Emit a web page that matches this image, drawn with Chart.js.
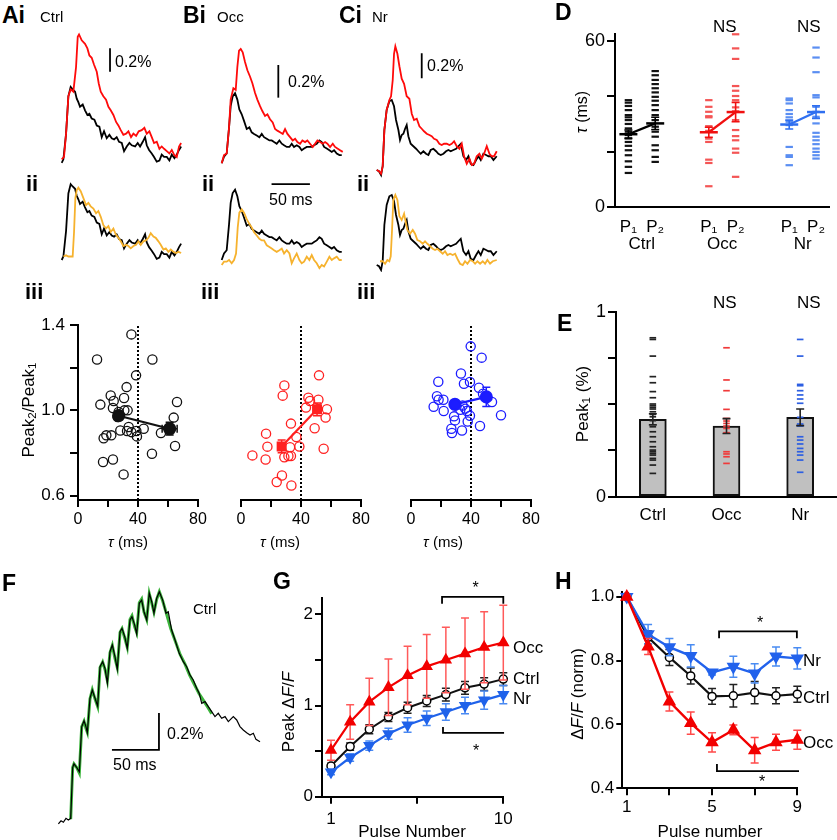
<!DOCTYPE html>
<html>
<head>
<meta charset="utf-8">
<title>Paired-pulse and train responses</title>
<script src="https://cdn.jsdelivr.net/npm/chart.js@4.4.1/dist/chart.umd.min.js"></script>
<style>
  body { margin: 0; background: #fff; }
  #fig { position: relative; width: 837px; height: 840px; overflow: hidden;
         font-family: "Liberation Sans", Arial, sans-serif; }
  #fig canvas { position: absolute; }
  .t { position: absolute; line-height: 1; white-space: nowrap; color: #000; z-index: 2; }
  .t sub { font-size: 68%; vertical-align: -0.25em; line-height: 0; }
</style>
</head>
<body>
<div id="fig"></div>
<script>
// ---------- Ai-Ci traces: [time (ms), dF/F (%)] ----------
const aiBlack = [[0,-0.03],[2.2,0],[5.7,0.22],[8.7,0.54],[11.7,0.62],[14.3,0.60],[17.4,0.58],[19.6,0.52],[21.7,0.49],[23.9,0.45],[27.4,0.47],[30.4,0.42],[33.5,0.38],[36.1,0.39],[39.1,0.35],[42.6,0.34],[45.7,0.29],[49.1,0.28],[52.2,0.19],[55.2,0.24],[58.7,0.18],[62.2,0.21],[65.2,0.18],[68.3,0.17],[71.7,0.19],[74.8,0.15],[78.3,0.14],[81.3,0.07],[84.8,0.11],[88.3,0.14],[91.3,0.12],[95.7,0.11],[99.1,0.14],[102.2,0.11],[105.7,0.15],[108.7,0.19],[110.9,0.12],[113.9,0.08],[117.4,0.05],[120.4,0.02],[123.9,-0.02],[127.4,-0.01],[130.4,0.04],[133.5,0.02],[137,0.02],[140.4,-0.01],[143.5,0.04],[147,0.01],[150,0.04],[153,0.08],[155.7,0.11]];
const aiRed = [[0,0],[3,0.02],[5.7,0.22],[8.7,0.54],[11.7,0.60],[15.2,0.58],[18.7,0.79],[20.9,1.05],[22.6,1.07],[26.1,1.02],[30.4,0.99],[33.5,0.95],[36.1,0.89],[39.1,0.87],[42.2,0.81],[45.7,0.75],[48.3,0.65],[50.9,0.58],[54.3,0.54],[57.8,0.51],[60.9,0.45],[63.9,0.42],[67.4,0.38],[70.9,0.32],[73.9,0.29],[77,0.25],[80.4,0.21],[83.9,0.22],[87,0.24],[90.4,0.19],[93.5,0.22],[97,0.20],[100.4,0.24],[104.3,0.25],[107.8,0.27],[110.9,0.22],[114.3,0.24],[117.4,0.19],[120.4,0.14],[123.9,0.15],[127.4,0.09],[130.4,0.11],[133.5,0.09],[137,0.07],[140.4,0.05],[143.5,0.08],[146.5,0.04],[150,0.02],[153,0.11],[155.7,0.14]];
const aiYellow = [[2.2,0],[5.7,0.01],[8.7,0],[11.7,0],[14.3,0],[16.1,0.21],[17.8,0.50],[19.6,0.57],[21.7,0.59],[24.8,0.56],[28.3,0.50],[31.7,0.44],[34.8,0.46],[37.8,0.43],[41.3,0.41],[44.8,0.37],[47.8,0.39],[50.9,0.34],[54.3,0.27],[57.8,0.24],[60.9,0.26],[63.9,0.21],[67.4,0.24],[70.4,0.19],[73.9,0.16],[77,0.13],[80.4,0.09],[83.9,0.10],[87,0.09],[90,0.07],[93.5,0.09],[97,0.10],[100,0.13],[103,0.10],[106.5,0.13],[110,0.14],[113,0.16],[116.1,0.20],[119.6,0.17],[122.6,0.16],[126.1,0.13],[129.1,0.10],[132.6,0.06],[135.7,0.07],[139.1,0.04],[142.2,0.06],[145.7,0.04],[149.1,0.03],[152.2,0.04],[155.7,0.03]];
const biBlack = [[0,0],[3,0.04],[6.5,0.06],[9.6,0.22],[11.7,0.35],[14.3,0.41],[17.4,0.43],[20.4,0.39],[23,0.33],[26.1,0.30],[29.1,0.26],[32.6,0.21],[36.1,0.22],[39.1,0.19],[42.2,0.18],[45.7,0.17],[49.1,0.16],[52.2,0.18],[55.2,0.16],[58.7,0.15],[62.2,0.14],[65.2,0.14],[68.3,0.13],[71.7,0.12],[75.2,0.14],[78.3,0.12],[81.3,0.11],[84.8,0.10],[88.3,0.10],[91.3,0.12],[94.3,0.10],[97.8,0.11],[101.3,0.10],[104.3,0.08],[107.4,0.09],[110.9,0.10],[114.3,0.10],[117.4,0.10],[120.4,0.11],[123.9,0.12],[127.4,0.14],[130.4,0.13],[133.5,0.10],[137,0.09],[140.4,0.08],[143.5,0.07],[146.5,0.08],[150,0.06],[153.5,0.05],[156.5,0.05]];
const biRed = [[0,0],[3,0.05],[6.5,0.06],[9.6,0.22],[11.7,0.39],[15.2,0.46],[18.3,0.45],[20.4,0.59],[22.6,0.69],[24.8,0.70],[27.4,0.68],[30.4,0.62],[33.5,0.57],[37,0.53],[40,0.49],[43.5,0.43],[46.5,0.39],[50,0.35],[53,0.32],[56.5,0.29],[59.6,0.30],[63,0.27],[66.5,0.25],[69.6,0.21],[72.6,0.20],[76.1,0.19],[79.6,0.18],[82.6,0.21],[85.7,0.18],[89.1,0.16],[92.6,0.14],[95.7,0.15],[98.7,0.13],[102.2,0.12],[105.2,0.14],[108.7,0.13],[111.7,0.14],[115.2,0.12],[118.7,0.10],[121.7,0.12],[124.8,0.14],[128.3,0.13],[131.7,0.12],[134.8,0.13],[137.8,0.12],[141.3,0.10],[144.8,0.12],[147.8,0.10],[150.9,0.09],[154.3,0.08],[157.8,0.07]];
const biYellow = [[0,-0.03],[3,-0.01],[6.5,-0.01],[9.6,0],[13,-0.02],[16.1,0],[18.7,0.04],[20.9,0.20],[23,0.29],[26.1,0.31],[29.1,0.29],[32.6,0.25],[36.1,0.22],[39.1,0.20],[42.2,0.17],[45.7,0.15],[49.1,0.13],[52.2,0.12],[55.2,0.12],[58.7,0.09],[62.2,0.08],[65.2,0.07],[68.3,0.06],[71.7,0.05],[75.2,0.06],[78.3,0.07],[81.3,0.04],[84.8,0.06],[88.3,0.04],[91.3,-0.02],[94.3,0.01],[97.8,0.04],[101.3,0],[104.3,-0.02],[107.4,-0.01],[110.9,0.02],[114.3,0],[117.4,0.03],[120.4,0],[123.9,-0.02],[127.4,-0.05],[130.4,-0.03],[133.5,-0.04],[137,-0.01],[140.4,0.02],[143.5,0],[146.5,0.01],[150,0.02],[153.5,0],[156.5,0]];
const ciBlack = [[0,0],[3,-0.01],[5.7,-0.04],[7.8,0.03],[10,0.32],[13,0.48],[16.5,0.55],[19.6,0.56],[22.6,0.51],[25.2,0.40],[28.3,0.32],[30.4,0.24],[32.6,0.28],[34.8,0.29],[37,0.33],[39.1,0.36],[41.3,0.27],[44.3,0.21],[47.8,0.19],[51.3,0.17],[54.3,0.15],[57.4,0.13],[60.9,0.15],[64.3,0.13],[67.4,0.12],[70.4,0.16],[73.9,0.17],[77.4,0.15],[80.4,0.13],[83.5,0.12],[87,0.13],[90.4,0.15],[93.5,0.16],[96.5,0.15],[100,0.16],[103.5,0.17],[106.5,0.19],[109.6,0.21],[113,0.11],[116.5,0.08],[119.6,0.11],[122.6,0.05],[126.1,0.04],[129.6,0.08],[132.6,0.11],[135.7,0.08],[139.1,0.13],[142.6,0.12],[145.7,0.11],[148.7,0.11],[152.2,0.08],[156.5,0.11]];
const ciRed = [[0,0],[3,-0.01],[5.7,-0.03],[7.8,0.03],[10,0.32],[13,0.48],[16.5,0.56],[18.7,0.59],[20.9,0.72],[22.6,0.93],[24.3,0.99],[27,0.93],[29.6,0.83],[32.6,0.73],[35.7,0.69],[39.1,0.59],[42.6,0.57],[45.7,0.45],[48.7,0.40],[52.2,0.41],[55.7,0.35],[58.7,0.33],[61.7,0.31],[65.2,0.29],[68.7,0.28],[71.7,0.27],[74.8,0.25],[78.3,0.24],[81.7,0.21],[84.8,0.20],[87.8,0.21],[91.3,0.21],[94.8,0.20],[97.8,0.21],[100.9,0.23],[104.3,0.19],[107.8,0.17],[110.9,0.21],[113.9,0.11],[117.4,0.05],[120.9,0.09],[123.9,0.04],[127,0.05],[130.4,0.11],[133.9,0.13],[137,0.09],[140,0.13],[143.5,0.19],[147,0.13],[150,0.11],[153,0.11],[156.5,0.15]];
const ciYellow = [[4.3,0.03],[7.8,0.03],[10.9,0.01],[13.9,0.04],[16.5,0.03],[18.3,0.07],[20,0.28],[21.7,0.52],[24.3,0.56],[27,0.52],[29.6,0.39],[32.6,0.36],[35.7,0.41],[38.3,0.33],[40,0.28],[43.5,0.25],[47,0.28],[50,0.25],[53,0.20],[56.5,0.19],[60,0.17],[63,0.19],[66.1,0.17],[69.6,0.15],[73,0.13],[76.1,0.12],[79.1,0.13],[82.6,0.11],[86.1,0.09],[89.1,0.11],[92.2,0.08],[95.7,0.09],[99.1,0.08],[102.2,0.09],[105.2,0.05],[108.7,0.01],[112.2,0],[115.2,0.03],[118.3,0.01],[121.7,0.04],[125.2,0.03],[128.3,0.01],[131.3,0.03],[134.8,0.01],[138.3,0.03],[141.3,0.01],[144.3,0.04],[147.8,0.01],[151.3,0.03],[156.5,0.04]];

// ---------- Aiii-Ciii: tau (ms) vs Peak2/Peak1 ----------
const ctrlTau = [12.7,35.6,49.6,38.7,32.4,21.8,30.7,23.8,66,14.9,23.3,30.9,33.1,27.1,26.4,63.8,33.8,43.8,28.2,32.7,35.6,38.9,39.3,55.3,22.2,18.9,17.1,64.7,49.3,16.7,23.3,30.4];
const ctrlRatio = [1.238,1.356,1.238,1.164,1.109,1.07,1.058,1.044,1.039,1.027,1.011,1.0,1.0,0.992,0.969,0.966,0.922,0.914,0.906,0.903,0.898,0.903,0.878,0.894,0.883,0.883,0.869,0.833,0.797,0.758,0.77,0.70];
const occTau = [52,28.9,27.8,44.9,46,51.6,43.3,57.3,56.4,33.3,49.1,16.7,36.9,17.6,32.7,38.9,55.1,7.6,33.3,31.6,28.9,16.4,27.3,23.8,33.6];
const occRatio = [1.164,1.117,1.069,1.059,1.044,1.05,1.013,1.005,0.966,0.938,0.916,0.891,0.875,0.83,0.827,0.831,0.82,0.789,0.786,0.786,0.78,0.77,0.695,0.664,0.648];
const nrTau = [39.8,47.1,33.3,18.2,39.3,35.3,45.3,48,17.3,18.4,21.6,54,15.1,34.4,36.2,32.9,21.8,37.3,39.3,60,28.7,29.3,37.8,46,26.9,27.3,34];
const nrRatio = [1.30,1.247,1.173,1.134,1.133,1.125,1.106,1.078,1.066,1.05,1.05,1.039,1.017,1.023,1.008,1.003,0.997,0.997,0.975,0.977,0.972,0.953,0.948,0.927,0.914,0.894,0.906];
// group means (tau < 40 and tau > 40) with SEM
const ctrlMeanTau = [27.1, 61.1], ctrlMeanRatio = [0.975, 0.914];
const ctrlSemTau = [2, 5], ctrlSemRatio = [0.02, 0.03];
const occMeanTau = [27.1, 50.7], occMeanRatio = [0.831, 1.005];
const occSemTau = [2, 1.5], occSemRatio = [0.03, 0.03];
const nrMeanTau = [29.3, 50.2], nrMeanRatio = [1.028, 1.063];
const nrSemTau = [2, 1.5], nrSemRatio = [0.02, 0.045];

// ---------- D: tau (ms) of P1 and P2 ----------
const dCtrlP1 = [38.6,37.7,36.5,35.0,33.2,32.4,31.4,30.0,28.4,27.2,26.0,24.8,23.5,22.1,20.5,18.7,16.5,14.5,12.3];
const dCtrlP2 = [49.1,47.6,45.9,44.4,42.9,41.4,39.8,38.4,36.8,35.0,33.2,31.4,29.0,27.2,25.4,22.3,20.5,18.1,16.3];
const dOccP1 = [38.6,36.2,34.4,32.8,32.4,29.2,27.5,24.7,23.5,17.1,15.9,7.5];
const dOccP2 = [62.4,57.3,53.5,43.7,42.0,40.1,38.6,36.0,34.6,31.4,27.8,25.6,24.1,21.1,19.6,10.9];
const dNrP1 = [39.2,38.6,37.4,35.0,33.6,32.4,30.8,29.6,21.7,18.7,18.1,15.1];
const dNrP2 = [57.6,54.0,48.7,40.4,39.6,36.2,34.4,32.6,30.2,26.8,25.4,24.1,22.7,21.1,19.9,18.7,17.5];
const dCtrlMean = [26.3, 30.2], dCtrlSem = [1.5, 2.2];
const dOccMean = [27.0, 34.3], dOccSem = [1.8, 3.5];
const dNrMean = [29.8, 34.3], dNrSem = [1.6, 2.3];

// ---------- E: Peak1 (%) ----------
const groups = ['Ctrl', 'Occ', 'Nr'];
const eMean = [0.418, 0.382, 0.429];
const eSem = [0.03, 0.04, 0.045];
const eCtrl = [0.859,0.850,0.760,0.649,0.616,0.568,0.535,0.501,0.492,0.483,0.474,0.459,0.445,0.432,0.411,0.378,0.351,0.324,0.297,0.270,0.252,0.243,0.234,0.225,0.207,0.198,0.171,0.126];
const eOcc = [0.805,0.631,0.573,0.472,0.423,0.409,0.396,0.382,0.369,0.346,0.243,0.231,0.216,0.180];
const eNr = [0.850,0.760,0.607,0.600,0.573,0.550,0.528,0.505,0.429,0.393,0.382,0.324,0.306,0.285,0.261,0.243,0.225,0.198,0.132];

// ---------- F: 10-pulse train, Ctrl ----------
const fTrace = [[0.4,-0.005],[3.2,0.012],[5.7,0.004],[8.5,0.025],[11,0.016],[13.5,0.025],[15.6,0.30],[17,0.32],[19.9,0.30],[22.7,0.277],[25.2,0.52],[27.7,0.553],[29.8,0.52],[31.2,0.488],[34,0.674],[36.5,0.719],[39.4,0.674],[42.2,0.632],[44.7,0.845],[47.5,0.872],[50,0.836],[52.5,0.755],[55.3,0.926],[57.8,0.962],[60.6,0.899],[63.1,0.831],[66,1.034],[68.1,1.052],[71,1.007],[73.7,0.944],[76.6,1.097],[78.7,1.115],[81.6,1.07],[83.7,1.022],[86.5,1.188],[89,1.205],[91.5,1.142],[94.4,1.097],[97.1,1.242],[99.7,1.196],[102.1,1.134],[105,1.215],[107.8,1.25],[111.4,1.205],[114.9,1.134],[117.3,1.142],[120.9,1.043],[124.5,0.989],[129,0.917],[133.3,0.872],[136.9,0.845],[140.4,0.80],[143.9,0.773],[147.5,0.728],[150.3,0.70],[152.9,0.647],[156.4,0.656],[159.9,0.629],[163.5,0.602],[167,0.575],[170.5,0.593],[174.1,0.566],[177.7,0.575],[181.2,0.548],[186.5,0.575],[190.1,0.557],[193.6,0.521],[197.1,0.503],[200.7,0.488],[204.3,0.476],[207.8,0.485],[210.6,0.452],[214.9,0.439]];
const fFit = [[13.5,0.02],[15.6,0.30],[17,0.32],[19.9,0.30],[22.7,0.27],[25.2,0.52],[27.7,0.55],[29.8,0.51],[31.2,0.49],[34,0.67],[36.5,0.72],[39.4,0.67],[42.2,0.63],[44.7,0.84],[47.5,0.87],[50,0.83],[52.5,0.77],[55.3,0.92],[57.8,0.96],[60.6,0.89],[63.1,0.84],[66,1.03],[68.1,1.05],[71,1.0],[73.7,0.95],[76.6,1.10],[78.7,1.12],[81.6,1.06],[83.7,1.03],[86.5,1.19],[89,1.21],[91.5,1.14],[94.4,1.10],[97.1,1.24],[99.7,1.19],[102.1,1.14],[105,1.21],[107.8,1.25],[111.4,1.20],[114.9,1.14],[120,1.05],[125,0.98],[130,0.91],[135,0.86],[140,0.80],[145,0.75],[150,0.70],[155,0.66],[160,0.62],[163.5,0.59]];

// ---------- G: peak dF/F per pulse ----------
const pulsesG = [1,2,3,4,5,6,7,8,9,10];
const gCtrl = [0.336,0.55,0.74,0.875,0.976,1.05,1.12,1.195,1.236,1.29];
const gCtrlSem = [0.03,0.04,0.05,0.05,0.06,0.06,0.07,0.07,0.07,0.07];
const gOcc = [0.51,0.82,1.04,1.20,1.33,1.43,1.50,1.57,1.64,1.69];
const gOccSem = [0.11,0.19,0.26,0.31,0.32,0.35,0.36,0.39,0.39,0.41];
const gNr = [0.27,0.43,0.56,0.69,0.786,0.86,0.93,1.0,1.06,1.12];
const gNrSem = [0.03,0.04,0.05,0.06,0.08,0.08,0.09,0.09,0.1,0.1];

// ---------- H: normalised dF/F per pulse ----------
const pulsesH = [1,2,3,4,5,6,7,8,9];
const hCtrl = [1.0,0.873,0.81,0.752,0.688,0.69,0.70,0.69,0.695];
const hCtrlSem = [0.004,0.02,0.025,0.025,0.025,0.035,0.035,0.025,0.025];
const hNr = [1.0,0.883,0.842,0.815,0.763,0.781,0.76,0.813,0.807];
const hNrSem = [0.004,0.03,0.027,0.035,0.008,0.033,0.03,0.03,0.033];
const hOcc = [1.0,0.844,0.672,0.604,0.544,0.583,0.519,0.544,0.552];
const hOccSem = [0.004,0.025,0.03,0.035,0.03,0.015,0.04,0.025,0.03];

// ---------- setup ----------
const fig = document.getElementById('fig');
const FONT = '"Liberation Sans", Arial, sans-serif';
Chart.defaults.font.family = FONT;
Chart.defaults.font.size = 16;
Chart.defaults.color = '#000';
Chart.defaults.animation = false;
Chart.defaults.events = [];
Chart.defaults.plugins.legend.display = false;
Chart.defaults.plugins.tooltip.enabled = false;
Chart.defaults.elements.point.radius = 0;
Chart.defaults.elements.point.hoverRadius = 0;
Chart.defaults.elements.line.tension = 0;

// error bars drawn under each dataset's own markers
Chart.register({
  id: 'errorBars',
  beforeDatasetDraw(chart, args) {
    const ds = chart.data.datasets[args.index];
    if (!ds.errY && !ds.errX) return;
    const meta = args.meta, ctx = chart.ctx, cap = ds.capW || 4;
    const xs = chart.scales[meta.xAxisID], ys = chart.scales[meta.yAxisID];
    ctx.save();
    ctx.strokeStyle = ds.errColor || ds.borderColor;
    ctx.lineWidth = ds.errWidth || 1.5;
    ctx.beginPath();
    meta.data.forEach((el, i) => {
      const p = meta.controller.getParsed(i);
      if (ds.errY && ds.errY[i]) {
        const a = ys.getPixelForValue(p.y - ds.errY[i]), b = ys.getPixelForValue(p.y + ds.errY[i]);
        ctx.moveTo(el.x, a); ctx.lineTo(el.x, b);
        ctx.moveTo(el.x - cap, a); ctx.lineTo(el.x + cap, a);
        ctx.moveTo(el.x - cap, b); ctx.lineTo(el.x + cap, b);
      }
      if (ds.errX && ds.errX[i]) {
        const a = xs.getPixelForValue(p.x - ds.errX[i]), b = xs.getPixelForValue(p.x + ds.errX[i]);
        ctx.moveTo(a, el.y); ctx.lineTo(b, el.y);
        ctx.moveTo(a, el.y - cap); ctx.lineTo(a, el.y + cap);
        ctx.moveTo(b, el.y - cap); ctx.lineTo(b, el.y + cap);
      }
    });
    ctx.stroke();
    ctx.restore();
  }
});

const pts = (xs, ys) => xs.map((x, i) => ({ x, y: ys[i] }));
const pairs = arr => arr.map(([x, y]) => ({ x, y }));
// later entries are drawn on top
const layer = sets => sets.map((d, i) => Object.assign({ clip: false, order: sets.length - i }, d));

// box = canvas [left, top, w, h]; area = plot area [x1, y1, x2, y2] in page px
function chartAt(box, area, config) {
  const cv = document.createElement('canvas');
  cv.width = box[2]; cv.height = box[3];
  cv.style.left = box[0] + 'px'; cv.style.top = box[1] + 'px';
  fig.appendChild(cv);
  const o = config.options;
  o.responsive = false;
  o.layout = { autoPadding: false,
    padding: { left: 0, bottom: 0, top: area[1] - box[1], right: box[0] + box[2] - area[2] } };
  const yw = area[0] - box[0], xh = box[1] + box[3] - area[3];
  if (o.scales.y.display === false) o.layout.padding.left = yw; else o.scales.y.afterFit = s => { s.width = yw; };
  if (o.scales.x.display === false) o.layout.padding.bottom = xh; else o.scales.x.afterFit = s => { s.height = xh; };
  return new Chart(cv, config);
}

function axis(min, max, ticks, fmt, o = {}) {
  return {
    type: 'linear', min, max,
    afterBuildTicks: s => { s.ticks = ticks.map(v => ({ value: v })); },
    ticks: { callback: fmt, autoSkip: false, maxRotation: 0, padding: o.pad ?? 3,
             font: { size: o.size || 16, lineHeight: 1 }, color: '#000' },
    grid: { display: o.ticks !== false, drawTicks: o.ticks !== false, drawOnChartArea: false,
            color: '#000', lineWidth: 2, tickLength: o.tick || 7 },
    border: { color: '#000', width: 2 }
  };
}

// trace panel with hidden axes; org maps data to page px
function traceChart(box, org, sets) {
  const [L, T, W, H] = box;
  const x = { type: 'linear', display: false, min: (L - org.x0) / org.pxMs, max: (L + W - org.x0) / org.pxMs };
  const y = { type: 'linear', display: false, min: (org.y0 - T - H) / org.pxPct, max: (org.y0 - T) / org.pxPct };
  return chartAt(box, [L, T, L + W, T + H], { type: 'line', data: { datasets: layer(sets) }, options: { scales: { x, y } } });
}
const tr = (arr, color, w) => ({ data: pairs(arr), borderColor: color, borderWidth: w || 1.8 });
const bar = (p, color) => ({ data: pairs(p), borderColor: color || '#000', borderWidth: 1.8 });

const BLK = '#000', RED = '#ff0a0a', YEL = '#f6b22e';

// ---------- Ai / Bi / Ci traces ----------
const aOrg = { x0: 61.7, pxMs: 0.767, pxPct: 116.7 };
traceChart([50, 25, 140, 155], { ...aOrg, y0: 159.3 }, [tr(aiBlack, BLK), tr(aiRed, RED), bar([[63, 0.751], [63, 0.951]])]);
traceChart([50, 172, 140, 100], { ...aOrg, y0: 256.5 }, [tr(aiBlack, BLK), tr(aiYellow, YEL)]);
const bOrg = { x0: 221.7, pxMs: 0.767, pxPct: 163.3 };
traceChart([212, 25, 150, 155], { ...bOrg, y0: 163.3 }, [tr(biBlack, BLK), tr(biRed, RED), bar([[73.8, 0.402], [73.8, 0.602]])]);
traceChart([212, 172, 150, 100], { ...bOrg, y0: 260 }, [tr(biBlack, BLK), tr(biYellow, YEL), bar([[65, 0.465], [115, 0.465]])]);
const cOrg = { x0: 376.7, pxMs: 0.767, pxPct: 125 };
traceChart([368, 25, 135, 155], { ...cOrg, y0: 170 }, [tr(ciBlack, BLK), tr(ciRed, RED), bar([[58.7, 0.734], [58.7, 0.934]])]);
traceChart([368, 172, 135, 100], { ...cOrg, y0: 265 }, [tr(ciBlack, BLK), tr(ciYellow, YEL)]);

// ---------- Aiii / Biii / Ciii scatter ----------
const tauAxis = () => axis(0, 80, [0, 20, 40, 60, 80], v => (v % 40 === 0 ? String(v) : ''), { pad: 5, size: 16 });
const ratioAxis = show => show
  ? axis(0.58, 1.4, [0.6, 0.8, 1.0, 1.2, 1.4], v => (Math.round(v * 10) % 4 === 2 ? v.toFixed(1) : ''), { tick: 8, pad: 5, size: 17 })
  : { type: 'linear', display: false, min: 0.58, max: 1.4 };
function scatterPanel(box, area, tau, ratio, mTau, mRatio, sTau, sRatio, col, meanStyle, showY) {
  chartAt(box, area, {
    type: 'line',
    data: { datasets: layer([
      { data: [{ x: 40, y: 0.58 }, { x: 40, y: 1.4 }], borderColor: '#000', borderWidth: 2, borderDash: [2, 2] },
      { data: pts(tau, ratio), showLine: false, pointRadius: 4.6, pointStyle: 'circle',
        pointBorderColor: col, pointBackgroundColor: 'rgba(0,0,0,0)', pointBorderWidth: 1.3 },
      { data: pts(mTau, mRatio), borderColor: col, borderWidth: 2.2, pointStyle: meanStyle, pointRadius: 5.5,
        pointBackgroundColor: col, pointBorderColor: col, errY: sRatio, errX: sTau, errWidth: 1.5, capW: 4 }
    ]) },
    options: { scales: { x: tauAxis(), y: ratioAxis(showY) } }
  });
}
scatterPanel([0, 300, 215, 240], [78, 325, 198, 500], ctrlTau, ctrlRatio, ctrlMeanTau, ctrlMeanRatio, ctrlSemTau, ctrlSemRatio, '#111', 'circle', true);
scatterPanel([225, 300, 155, 240], [241, 325, 361, 500], occTau, occRatio, occMeanTau, occMeanRatio, occSemTau, occSemRatio, '#ff2020', 'rect', false);
scatterPanel([395, 300, 155, 240], [411, 325, 531, 500], nrTau, nrRatio, nrMeanTau, nrMeanRatio, nrSemTau, nrSemRatio, '#1c1cff', 'circle', false);

// ---------- D ----------
const dash = (x, vals, col, r, w) => ({ type: 'line', data: vals.map(y => ({ x, y })), showLine: false, pointStyle: 'line',
  pointRadius: r || 3.7, pointBorderColor: col, pointBorderWidth: w || 2.2, borderColor: col });
const meanPair = (x1, x2, m, s, col) => ({ data: [{ x: x1, y: m[0] }, { x: x2, y: m[1] }], borderColor: col, borderWidth: 2.3,
  pointStyle: 'line', pointRadius: 9, pointBorderColor: col, pointBorderWidth: 2.5, errY: s, capW: 4, errWidth: 1.6 });
const dPos = [1, 1.5, 2, 4, 4.5, 5, 7, 7.5, 8];
chartAt([560, 10, 277, 250], [615, 34, 837, 207], {
  type: 'line',
  data: { datasets: layer([
    dash(1, dCtrlP1, '#111'), dash(2, dCtrlP2, '#111'),
    dash(4, dOccP1, '#f45555'), dash(5, dOccP2, '#f45555'),
    dash(7, dNrP1, '#5a8ef2'), dash(8, dNrP2, '#5a8ef2'),
    meanPair(1, 2, dCtrlMean, dCtrlSem, '#000'),
    meanPair(4, 5, dOccMean, dOccSem, '#f01010'),
    meanPair(7, 8, dNrMean, dNrSem, '#2f6ff0')
  ]) },
  options: { scales: {
    x: axis(0.5, 8.5, dPos, v => { const r = (v - 1) % 3; return r === 0 ? 'P₁' : r === 1 ? 'P₂' : ['', groups[Math.floor((v - 1) / 3)]]; },
            { ticks: false, pad: 12, size: 17 }),
    y: axis(0, 62.5, [0, 20, 40, 60], v => (v === 0 || v === 60 ? String(v) : ''), { tick: 8, pad: 2, size: 18 })
  } }
});

// ---------- E ----------
chartAt([560, 290, 277, 240], [616, 311.7, 837, 496.7], {
  type: 'bar',
  data: { labels: groups, datasets: layer([
    { type: 'bar', data: eMean, backgroundColor: '#c0c0c0', borderColor: '#111', borderWidth: 2, borderSkipped: false, barThickness: 27 },
    dash('Ctrl', eCtrl, '#222', 3.3, 1.7), dash('Occ', eOcc, '#f03a3a', 3.3, 1.7), dash('Nr', eNr, '#2d5fe2', 3.3, 1.7),
    { type: 'line', data: eMean, showLine: false, pointRadius: 0, borderColor: '#222', errY: eSem, capW: 4, errWidth: 1.6 }
  ]) },
  options: { scales: {
    x: { type: 'category', offset: true, grid: { display: false, drawTicks: false }, border: { color: '#000', width: 2 },
         ticks: { padding: 8, font: { size: 17 }, color: '#000' } },
    y: axis(0, 1, [0, 0.25, 0.5, 0.75, 1], v => (v === 0 || v === 1 ? String(v) : ''), { tick: 8, pad: 2, size: 18 })
  } }
});

// ---------- F ----------
traceChart([50, 580, 225, 258], { x0: 58, y0: 823, pxMs: 0.94, pxPct: 185 }, [
  tr(fFit, '#3cb43c', 3), tr(fTrace, '#000', 1.2),
  bar([[57.4, 0.395], [107.4, 0.395], [107.4, 0.595]])
]);

// ---------- G ----------
const bracket = (x1, x2, y, h) => ({ data: [{ x: x1, y: y + h }, { x: x1, y }, { x: x2, y }, { x: x2, y: y + h }],
  borderColor: '#000', borderWidth: 1.8 });
chartAt([235, 570, 300, 270], [322, 598, 503.3, 796.7], {
  type: 'line',
  data: { datasets: layer([
    { data: pts(pulsesG, gCtrl), borderColor: '#111', borderWidth: 2, pointStyle: 'circle', pointRadius: 4,
      pointBackgroundColor: '#fff', pointBorderColor: '#000', pointBorderWidth: 1.5, errY: gCtrlSem, errColor: '#222', capW: 4 },
    { data: pts(pulsesG, gNr), borderColor: '#1f62ea', borderWidth: 2.2, pointStyle: 'triangle', pointRotation: 180, pointRadius: 5,
      pointBackgroundColor: '#1f62ea', pointBorderColor: '#1f62ea', errY: gNrSem, errColor: '#4a8af2', capW: 4 },
    { data: pts(pulsesG, gOcc), borderColor: '#f20000', borderWidth: 2.2, pointStyle: 'triangle', pointRadius: 5,
      pointBackgroundColor: '#f20000', pointBorderColor: '#f20000', errY: gOccSem, errColor: '#ff5a5a', capW: 4 },
    bracket(6.8, 10, 2.193, -0.077),
    bracket(6.85, 10.04, 0.70, 0.066)
  ]) },
  options: { scales: {
    x: axis(0.53, 10, [1, 5.5, 10], v => (v === 5.5 ? '' : String(v)), { pad: 7, size: 17 }),
    y: axis(0, 2.18, [0, 0.5, 1, 1.5, 2], v => (Number.isInteger(v) ? String(v) : ''), { tick: 7, pad: 2, size: 17 })
  } }
});

// ---------- H ----------
chartAt([560, 570, 277, 270], [622.3, 591.7, 797.3, 788.3], {
  type: 'line',
  data: { datasets: layer([
    { data: pts(pulsesH, hCtrl), borderColor: '#111', borderWidth: 2.2, pointStyle: 'circle', pointRadius: 4,
      pointBackgroundColor: '#fff', pointBorderColor: '#000', pointBorderWidth: 1.5, errY: hCtrlSem, errColor: '#222', capW: 4 },
    { data: pts(pulsesH, hNr), borderColor: '#2262ec', borderWidth: 2.4, pointStyle: 'triangle', pointRotation: 180, pointRadius: 5.4,
      pointBackgroundColor: '#2262ec', pointBorderColor: '#2262ec', errY: hNrSem, errColor: '#4a8cf2', capW: 4 },
    { data: pts(pulsesH, hOcc), borderColor: '#f20000', borderWidth: 2.4, pointStyle: 'triangle', pointRadius: 5.4,
      pointBackgroundColor: '#f20000', pointBorderColor: '#f20000', errY: hOccSem, errColor: '#ff4a4a', capW: 4 },
    bracket(5.33, 8.98, 0.892, -0.022),
    bracket(5.23, 9.08, 0.454, 0.022)
  ]) },
  options: { scales: {
    x: axis(0.79, 9, [1, 3, 5, 7, 9], v => (v % 4 === 1 ? String(v) : ''), { pad: 4, size: 17 }),
    y: axis(0.4, 1.016, [0.4, 0.6, 0.8, 1.0], v => v.toFixed(1), { tick: 6, pad: 2, size: 17 })
  } }
});

// ---------- text ----------
function label(html, x, y, size, opt = {}) {
  const d = document.createElement('div');
  d.className = 't';
  d.innerHTML = html;
  d.style.left = x + 'px'; d.style.top = y + 'px'; d.style.fontSize = size + 'px';
  if (opt.bold) d.style.fontWeight = 'bold';
  if (opt.rot) d.style.transform = 'translate(-50%,-50%) rotate(-90deg)';
  else if (opt.center) d.style.transform = 'translate(-50%,-50%)';
  fig.appendChild(d);
}
const B = { bold: true };
label('Ai', 2, 4, 23, B); label('Bi', 183, 4, 23, B); label('Ci', 339, 4, 23, B);
label('Ctrl', 40, 8.5, 15); label('Occ', 217, 8.5, 15); label('Nr', 372, 8.5, 15);
label('ii', 26, 173, 22, B); label('ii', 202, 173, 22, B); label('ii', 357, 173, 22, B);
label('iii', 25, 281, 22, B); label('iii', 201, 281, 22, B); label('iii', 357, 281, 22, B);
label('0.2%', 115, 54, 16); label('0.2%', 288, 73.5, 16); label('0.2%', 427, 58, 16);
label('50 ms', 269, 192, 16);
label('<i>τ</i> (ms)', 128, 541, 15, { center: true });
label('<i>τ</i> (ms)', 280, 541, 15, { center: true });
label('<i>τ</i> (ms)', 443, 541, 15, { center: true });
label('Peak<sub>2</sub>/Peak<sub>1</sub>', 28, 410, 17, { rot: true });

label('D', 555, 0.5, 23, B);
label('NS', 713, 18, 17); label('NS', 797, 18, 17);
label('<i>τ</i> (ms)', 582, 112, 16, { rot: true });
label('E', 557, 312, 23, B);
label('NS', 713, 294, 17); label('NS', 797, 294, 17);
label('Peak<sub>1</sub> (%)', 582, 404, 17, { rot: true });

label('F', 2, 572, 23, B);
label('Ctrl', 193, 601.3, 15);
label('0.2%', 167, 725.6, 16);
label('50 ms', 113, 757, 16);

label('G', 273, 570, 23, B);
label('Occ', 513, 638.5, 17); label('Ctrl', 513, 670, 17); label('Nr', 513, 689.5, 17);
label('*', 472.5, 579.5, 16); label('*', 473, 743, 16);
label('Peak Δ<i>F</i>/<i>F</i>', 288, 712, 17, { rot: true });
label('Pulse Number', 412, 831, 17, { center: true });

label('H', 555, 570, 23, B);
label('Nr', 803, 652, 17); label('Ctrl', 803, 688.5, 17); label('Occ', 803, 733.5, 17);
label('*', 757, 615, 16); label('*', 759, 774, 16);
label('Δ<i>F</i>/<i>F</i> (norm)', 577, 694, 17, { rot: true });
label('Pulse number', 710, 831, 17, { center: true });
</script>
</body>
</html>
